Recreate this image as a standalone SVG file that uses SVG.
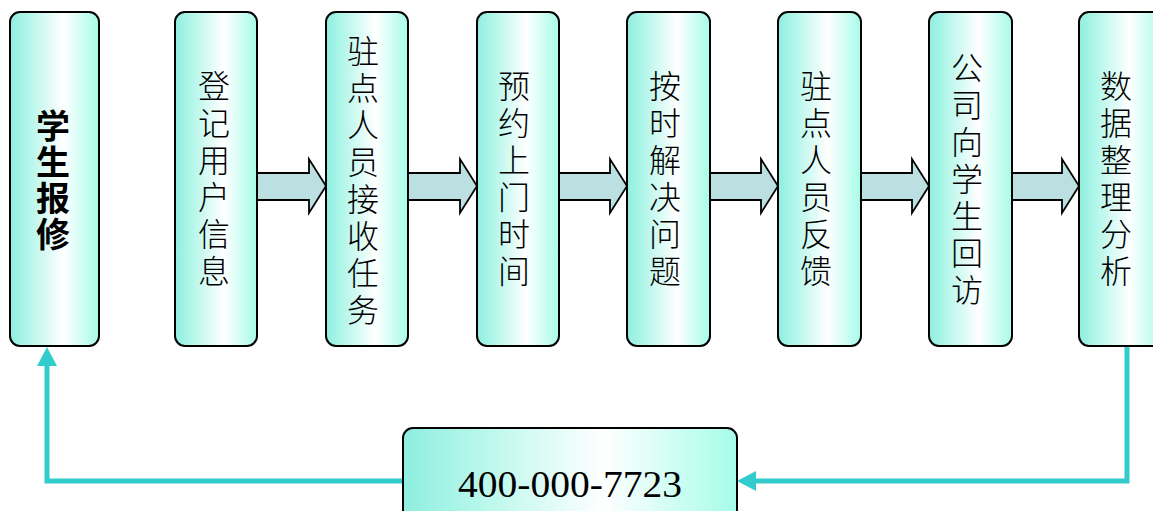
<svg xmlns="http://www.w3.org/2000/svg" width="1153" height="511" viewBox="0 0 1153 511">
<defs>
<linearGradient id="g" x1="0" y1="0" x2="1" y2="0">
<stop offset="0" stop-color="#8eeedf"/>
<stop offset="0.15" stop-color="#a8f5e7"/>
<stop offset="0.6" stop-color="#ffffff"/>
<stop offset="1" stop-color="#a6fce9"/>
</linearGradient>
<marker id="ah" markerUnits="userSpaceOnUse" markerWidth="20" markerHeight="20" refX="0" refY="10" orient="auto">
<path d="M0,0 L19,10 L0,20 z" fill="#33cccc"/>
</marker>
</defs>
<style>
.box{fill:url(#g);stroke:#000;stroke-width:2}
.t{font-family:"Noto Sans CJK SC","Noto Sans CJK TC",sans-serif;font-size:32px;font-weight:300;fill:#000;text-anchor:middle;writing-mode:vertical-rl;letter-spacing:5px}
.tb{font-weight:bold;font-size:34px;letter-spacing:2px}
.ba{fill:#bcdfe1;stroke:#000;stroke-width:1.8;stroke-linejoin:miter}
.con{fill:none;stroke:#33cccc;stroke-width:5}
.ph{font-family:"Liberation Serif",serif;font-size:38px;fill:#000}
</style>
<g id="connectors">
<polygon class="ba" points="257,173 309,173 309,159 326,186 309,213 309,200 257,200"/>
<polygon class="ba" points="408,173 460,173 460,159 477,186 460,213 460,200 408,200"/>
<polygon class="ba" points="559,173 610,173 610,159 627,186 610,213 610,200 559,200"/>
<polygon class="ba" points="710,173 761,173 761,159 778,186 761,213 761,200 710,200"/>
<polygon class="ba" points="861,173 912,173 912,159 929,186 912,213 912,200 861,200"/>
<polygon class="ba" points="1012,173 1062,173 1062,159 1079,186 1062,213 1062,200 1012,200"/>
<path class="con" d="M1127,347 V481 H756" marker-end="url(#ah)"/>
<path class="con" d="M403,481 H47 V366" marker-end="url(#ah)"/>
</g>
<g id="n1">
<rect class="box" x="10" y="12" width="89" height="334" rx="10"/>
<text class="t tb" x="53" y="181">学生报修</text>
</g>
<g id="n2">
<rect class="box" x="175" y="12" width="82" height="334" rx="10"/>
<text class="t" x="214" y="181">登记用户信息</text>
</g>
<g id="n3">
<rect class="box" x="326" y="12" width="82" height="334" rx="10"/>
<text class="t" x="363" y="183">驻点人员接收任务</text>
</g>
<g id="n4">
<rect class="box" x="477" y="12" width="82" height="334" rx="10"/>
<text class="t" x="514" y="181">预约上门时间</text>
</g>
<g id="n5">
<rect class="box" x="627" y="12" width="83" height="334" rx="10"/>
<text class="t" x="665" y="181">按时解决问题</text>
</g>
<g id="n6">
<rect class="box" x="778" y="12" width="83" height="334" rx="10"/>
<text class="t" x="816" y="181">驻点人员反馈</text>
</g>
<g id="n7">
<rect class="box" x="929" y="12" width="83" height="334" rx="10"/>
<text class="t" x="967" y="181">公司向学生回访</text>
</g>
<g id="n8">
<rect class="box" x="1079" y="12" width="84" height="334" rx="10"/>
<text class="t" x="1116" y="181">数据整理分析</text>
</g>
<g id="n9">
<rect class="box" x="403" y="428" width="334" height="100" rx="10"/>
<text class="ph" x="458" y="497" textLength="224" lengthAdjust="spacingAndGlyphs">400-000-7723</text>
</g>
</svg>
